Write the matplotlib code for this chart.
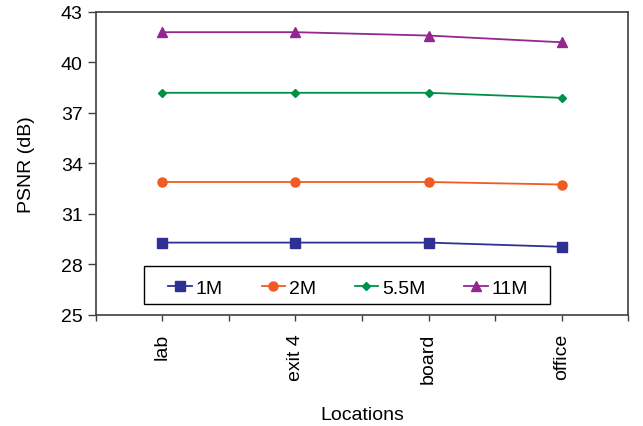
import matplotlib.pyplot as plt
from matplotlib.patches import Rectangle

plt.rcParams['font.family'] = ['Liberation Sans', 'DejaVu Sans']

# categories and PSNR values
locations = ['lab', 'exit 4', 'board', 'office']
psnr_1m = [29.3, 29.3, 29.3, 29.05]
psnr_2m = [32.9, 32.9, 32.9, 32.75]
psnr_55m = [38.2, 38.2, 38.2, 37.9]
psnr_11m = [41.8, 41.8, 41.6, 41.2]
y_ticks = [25, 28, 31, 34, 37, 40, 43]

fig = plt.figure(figsize=(6.43, 4.27), dpi=100)
ax = fig.add_axes([0.149, 0.26, 0.828, 0.7096])

x = [1, 3, 5, 7]
ax.plot(x, psnr_1m, color='#2E3192', marker='s', markersize=6.5, lw=1.3, label='1M')
ax.plot(x, psnr_2m, color='#F15A22', marker='o', markersize=6.5, lw=1.3, label='2M')
ax.plot(x, psnr_55m, color='#00904A', marker='D', markersize=4, lw=1.3, label='5.5M')
ax.plot(x, psnr_11m, color='#93278F', marker='^', markersize=7, lw=1.3, label='11M')

ax.set_xlim(0, 8)
ax.set_ylim(25, 43)
ax.set_yticks(y_ticks)
ax.set_xticks(range(0, 9))
ax.set_xticklabels(['', locations[0], '', locations[1], '', locations[2], '', locations[3], ''],
                   rotation=90)
ax.tick_params(axis='both', labelsize=14, color='#404040', width=1)
ax.tick_params(axis='y', length=6)
ax.tick_params(axis='x', length=4, pad=9)
for s in ax.spines.values():
    s.set_color('#404040')
    s.set_linewidth(1.2)

ax.set_ylabel('PSNR (dB)', fontsize=14)
ax.yaxis.set_label_coords(-0.115, 0.5)
ax.set_xlabel('Locations', fontsize=14)
ax.xaxis.set_label_coords(0.5, -0.30)

# legend box drawn as a plain rectangle, entries centred inside it
ax.add_patch(Rectangle((0.090, 0.036), 0.763, 0.125, transform=ax.transAxes,
                       facecolor='white', edgecolor='black', lw=1.0, zorder=3))
leg = ax.legend(ncol=4, loc='center', bbox_to_anchor=(0.474, 0.089),
                frameon=False, fontsize=14, handlelength=1.2, handletextpad=0.2,
                columnspacing=2.0, borderaxespad=0, borderpad=0)
leg.set_zorder(4)

fig.savefig('out.png', dpi=100)
